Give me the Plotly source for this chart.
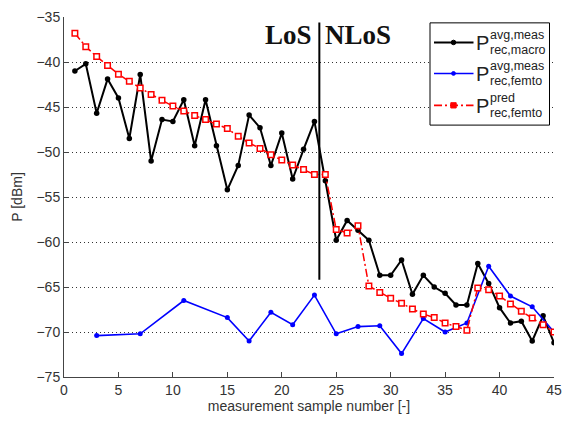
import plotly.graph_objects as go

# ---- data ----
x_macro = list(range(1, 46))
p_macro = [-41.0, -40.2, -45.7, -41.9, -44.0, -48.5, -41.4, -51.0, -46.4, -46.6,
           -44.2, -49.3, -44.2, -49.3, -54.2, -51.5, -45.9, -47.3, -51.5, -47.9,
           -53.0, -49.7, -46.6, -53.2, -59.8, -57.6, -58.7, -59.8, -63.7, -63.7,
           -62.0, -65.8, -63.7, -65.0, -65.7, -67.0, -67.0, -62.4, -64.6, -67.3,
           -69.0, -68.8, -71.0, -68.2, -71.2]

x_femto = [3, 7, 11, 15, 17, 19, 21, 23, 25, 27, 29, 31, 33, 35, 37, 39, 41, 43, 45]
p_femto = [-70.4, -70.2, -66.5, -68.4, -71.0, -67.8, -69.2, -65.9, -70.2, -69.4,
           -69.3, -72.4, -68.5, -70.0, -69.0, -62.7, -66.0, -67.2, -70.0]

x_pred = list(range(1, 46))
p_pred = [-36.8, -38.3, -39.4, -40.4, -41.35, -42.15, -42.9, -43.6, -44.25, -44.9,
          -45.45, -45.95, -46.4, -46.9, -47.4, -48.25, -49.0, -49.6, -50.3, -50.9,
          -51.45, -51.95, -52.5, -52.5, -58.6, -59.0, -58.2, -64.9, -65.6, -66.25,
          -66.8, -67.45, -68.0, -68.4, -69.0, -69.4, -69.8, -65.1, -65.3, -66.0,
          -66.9, -67.7, -68.45, -69.2, -70.0]

x_ticks = [0, 5, 10, 15, 20, 25, 30, 35, 40, 45]
y_ticks = [-75, -70, -65, -60, -55, -50, -45, -40, -35]

los_boundary = 23.45
los_line_range = [-64.2, -35.6]

legend_sup = ["avg,meas", "avg,meas", "pred"]
legend_sub = ["rec,macro", "rec,femto", "rec,femto"]

fig = go.Figure()
fig.add_trace(go.Scatter(x=x_macro, y=p_macro, mode="lines+markers",
                         line=dict(color="black", width=2),
                         marker=dict(symbol="circle", size=5.5, color="black"),
                         showlegend=False))
fig.add_trace(go.Scatter(x=x_femto, y=p_femto, mode="lines+markers",
                         line=dict(color="#0000ff", width=1.6),
                         marker=dict(symbol="circle", size=5, color="#0000ff"),
                         showlegend=False))
fig.add_trace(go.Scatter(x=x_pred, y=p_pred, mode="lines+markers",
                         line=dict(color="#ff0000", width=1.5, dash="8px,3px,2px,3px"),
                         marker=dict(symbol="square", size=5.5, color="white",
                                     line=dict(color="#ff0000", width=1.5)),
                         showlegend=False))

# LoS / NLoS separator
fig.add_shape(type="line", xref="x", yref="y", x0=los_boundary, x1=los_boundary,
              y0=los_line_range[0], y1=los_line_range[1],
              line=dict(color="black", width=2))
fig.add_annotation(x=los_boundary - 0.5, y=-37.0, xref="x", yref="y", text="<b>LoS</b>",
                   showarrow=False, xanchor="right", yanchor="middle",
                   font=dict(family="Liberation Serif", size=27, color="#111"))
fig.add_annotation(x=los_boundary + 0.35, y=-37.0, xref="x", yref="y", text="<b>NLoS</b>",
                   showarrow=False, xanchor="left", yanchor="middle",
                   font=dict(family="Liberation Serif", size=27, color="#111"))

# ---- custom legend ----
W, H = 576, 424
ml, mr, mt, mb = 64, 22, 9, 47
pw, ph = W - ml - mr, H - mt - mb


def px(xp):
    return (xp - ml) / pw


def py(yp):
    return (H - mb - yp) / ph


fig.add_shape(type="rect", xref="paper", yref="paper", x0=px(430), x1=px(549.5),
              y0=py(119.5), y1=py(15), line=dict(color="black", width=1),
              fillcolor="white", layer="above")
rows = [35, 66.7, 99.3]
styles = [("black", "solid", "circle", 6), ("#0000ff", "solid", "circle", 5),
          ("#ff0000", "8px,3px,2px,3px", "square", 7)]
for r, (c, d, sym, sz), sup, sub in zip(rows, styles, legend_sup, legend_sub):
    fig.add_shape(type="line", xref="paper", yref="paper", x0=px(434), x1=px(473.5),
                  y0=py(r), y1=py(r), line=dict(color=c, width=2 if c == "black" else 1.6, dash=d),
                  layer="above")
    half = sz / 2
    fig.add_shape(type="circle" if sym == "circle" else "rect", xref="paper", yref="paper",
                  x0=px(453.5 - half / 1.3), x1=px(453.5 + half / 1.3),
                  y0=py(r + half / 1.3), y1=py(r - half / 1.3),
                  line=dict(color=c, width=1), fillcolor=c, layer="above")
    fig.add_annotation(xref="paper", yref="paper", x=px(474), y=py(r + 1), text="P",
                       showarrow=False, xanchor="left", yanchor="middle",
                       font=dict(family="Liberation Sans", size=20, color="#222"))
    fig.add_annotation(xref="paper", yref="paper", x=px(487.5), y=py(r - 7.6), text=sup,
                       showarrow=False, xanchor="left", yanchor="middle",
                       font=dict(family="Liberation Sans", size=12.5, color="#222"))
    fig.add_annotation(xref="paper", yref="paper", x=px(487.5), y=py(r + 7.8), text=sub,
                       showarrow=False, xanchor="left", yanchor="middle",
                       font=dict(family="Liberation Sans", size=12.5, color="#222"))

axis_font = dict(family="Liberation Sans", size=14, color="#333")
fig.update_xaxes(range=[0, 45], tickvals=x_ticks, ticks="inside", ticklen=5,
                 tickcolor="#444", showline=True, linecolor="#444", linewidth=1,
                 showgrid=False, zeroline=False, tickfont=axis_font,
                 title=dict(text="measurement sample number [-]", font=axis_font, standoff=2))
fig.update_yaxes(range=[-75, -35], tickvals=y_ticks, ticks="inside", ticklen=5,
                 tickcolor="#444", showline=True, linecolor="#444", linewidth=1,
                 showgrid=True, gridcolor="#333", griddash="1px,3px", gridwidth=1,
                 zeroline=False, tickfont=axis_font,
                 title=dict(text="P [dBm]", font=axis_font, standoff=10))
fig.update_layout(width=W, height=H, autosize=False,
                  margin=dict(l=ml, r=mr, t=mt, b=mb),
                  plot_bgcolor="white", paper_bgcolor="white",
                  showlegend=False)
fig.write_html("out.html")
